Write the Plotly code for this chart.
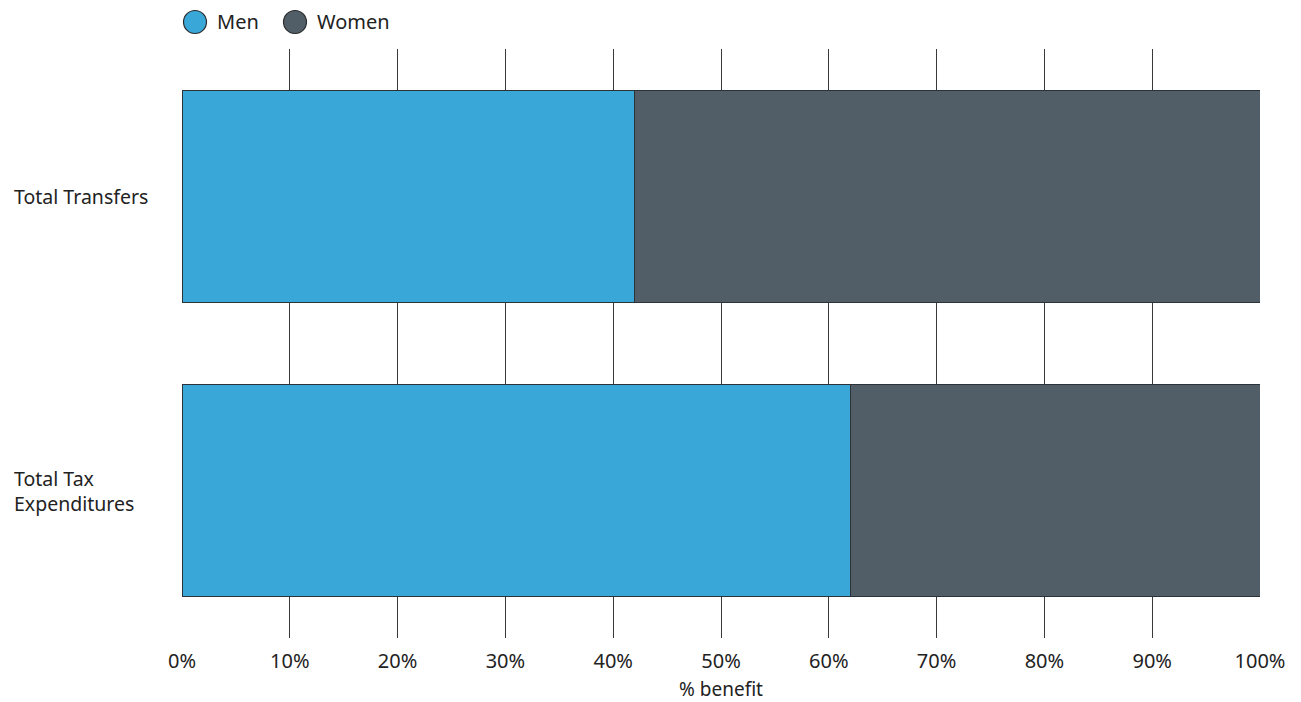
import plotly.graph_objects as go

categories = ["Total Transfers", "Total Tax<br>Expenditures"]
series_names = ["Men", "Women"]
men = [42, 62]
women = [58, 38]
x_ticks = [0, 10, 20, 30, 40, 50, 60, 70, 80, 90, 100]
x_tick_labels = [f"{v}%" for v in x_ticks]

MEN_COLOR = "#39a7d7"
WOMEN_COLOR = "#515e67"
EDGE = "#2b3338"
FONT = "Noto Sans"
TEXT = "#222222"

W, H = 1301, 702
M_L, M_R, M_T, M_B = 182, 41, 49, 64
PLOT_W = W - M_L - M_R
PLOT_H = H - M_T - M_B

fig = go.Figure()
for name, vals, color in [("Men", men, MEN_COLOR), ("Women", women, WOMEN_COLOR)]:
    fig.add_trace(go.Bar(
        y=categories, x=vals, orientation="h", name=name,
        marker=dict(color=color, line=dict(color=EDGE, width=1)),
        width=0.72, showlegend=False, hoverinfo="x+y",
    ))

# left-aligned category labels
for cat in categories:
    fig.add_annotation(
        x=0, xref="paper", xshift=-170, xanchor="left",
        y=cat, yref="y", text=cat, showarrow=False, align="left",
        font=dict(family=FONT, size=19.5, color=TEXT),
    )

# legend drawn as circles plus labels above the plot
legend_y = (H - M_B - 22) / PLOT_H
legend_items = [(series_names[0], MEN_COLOR, 195), (series_names[1], WOMEN_COLOR, 295)]
for name, color, cx in legend_items:
    fx = (cx - M_L) / PLOT_W
    fig.add_shape(
        type="circle", xref="paper", yref="paper",
        xsizemode="pixel", ysizemode="pixel",
        xanchor=fx, yanchor=legend_y,
        x0=-11.5, x1=11.5, y0=-11.5, y1=11.5,
        fillcolor=color, line=dict(color="#2b2b2b", width=1.2),
    )
    fig.add_annotation(
        x=fx, xref="paper", xshift=20, xanchor="left",
        y=legend_y, yref="paper", yanchor="middle",
        text=name, showarrow=False,
        font=dict(family=FONT, size=20, color=TEXT),
    )

fig.update_layout(
    barmode="stack",
    width=W, height=H,
    margin=dict(l=M_L, r=M_R, t=M_T, b=M_B, autoexpand=False),
    paper_bgcolor="white", plot_bgcolor="white",
    font=dict(family=FONT, size=20, color=TEXT),
    showlegend=False,
    xaxis=dict(
        range=[0, 100], tickvals=x_ticks, ticktext=x_tick_labels,
        showgrid=True, gridcolor="#3a3a3a", gridwidth=1,
        zeroline=False, showline=False, ticks="",
        ticklabelstandoff=9,
        tickfont=dict(family=FONT, size=20, color=TEXT),
        title=dict(text="% benefit", font=dict(family=FONT, size=19, color=TEXT), standoff=9),
        fixedrange=True,
    ),
    yaxis=dict(
        autorange="reversed", showticklabels=False, showgrid=False,
        zeroline=False, showline=False, ticks="", fixedrange=True,
    ),
)

fig.write_html("out.html")
